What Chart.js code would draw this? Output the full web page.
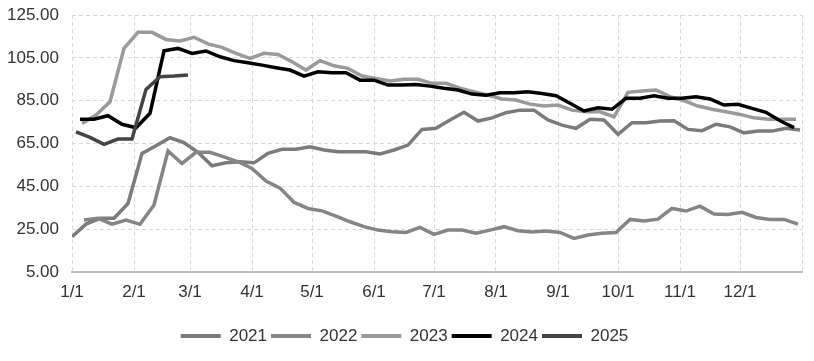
<!DOCTYPE html>
<html><head><meta charset="utf-8">
<script src="https://cdn.jsdelivr.net/npm/chart.js@4/dist/chart.umd.min.js"></script>
<style>html,body{margin:0;padding:0;background:#fff}</style>
</head><body>
<canvas id="c" width="814" height="361"></canvas>
<script>
// ---- data ----
const seriesNames = ['2021', '2022', '2023', '2024', '2025'];
// day-of-year (Jan 1 = 0) of each year's first weekly observation
const firstObsDay = [0, 6, 5, 4, 2];
const v2021 = [21.5, 27.4, 30.1, 30.1, 37.0, 60.4, 64.0, 67.7, 65.4, 60.9, 54.6, 56.0, 56.5, 56.0, 60.4, 62.3, 62.3, 63.5, 62.0, 61.2, 61.2, 61.2, 60.1, 62.0, 64.3, 71.6, 72.1, 76.0, 79.6, 75.5, 77.0, 79.4, 80.6, 80.6, 76.0, 73.6, 72.1, 76.3, 76.0, 69.3, 74.7, 74.7, 75.5, 75.6, 71.6, 71.0, 74.0, 72.8, 70.0, 70.8, 70.8, 72.1, 71.3];
const v2022 = [29.3, 30.1, 27.4, 29.3, 27.3, 36.3, 61.5, 55.7, 60.9, 60.9, 58.8, 56.5, 53.4, 47.5, 44.2, 37.6, 34.7, 33.6, 31.1, 28.5, 26.2, 24.6, 23.8, 23.5, 25.9, 22.6, 24.6, 24.6, 23.1, 24.6, 26.2, 24.3, 23.7, 24.2, 23.5, 20.7, 22.3, 23.1, 23.5, 29.6, 28.8, 29.7, 34.7, 33.5, 35.8, 32.1, 31.9, 32.9, 30.5, 29.6, 29.6, 27.4];
const v2023 = [74.4, 78.3, 84.5, 109.4, 116.9, 116.9, 113.6, 112.9, 114.6, 111.5, 109.9, 107.1, 104.8, 107.1, 106.6, 103.2, 99.3, 103.7, 101.3, 100.1, 96.5, 95.4, 94.2, 95.0, 95.0, 93.1, 93.1, 90.8, 89.2, 87.6, 85.8, 85.3, 83.4, 82.5, 83.0, 80.6, 79.8, 79.8, 77.5, 88.9, 89.5, 90.0, 86.9, 85.0, 82.5, 81.0, 79.8, 78.6, 77.0, 76.3, 76.3, 76.3];
const v2024 = [76.4, 76.4, 78.0, 74.0, 72.4, 79.1, 108.3, 109.4, 107.1, 108.2, 105.5, 103.7, 102.7, 101.6, 100.4, 99.3, 96.5, 98.5, 98.1, 98.1, 94.6, 94.6, 92.3, 92.3, 92.6, 91.8, 90.8, 90.0, 88.1, 87.6, 88.7, 88.7, 89.2, 88.4, 87.3, 83.8, 80.2, 81.7, 81.0, 86.1, 86.1, 87.3, 86.1, 86.1, 86.8, 85.8, 83.0, 83.3, 81.4, 79.6, 75.6, 72.4];
const v2025 = [70.5, 67.9, 64.6, 67.1, 67.1, 90.3, 96.2, 96.5, 97.0];
const seriesValues = [v2021, v2022, v2023, v2024, v2025];
const xTickLabels = ['1/1', '2/1', '3/1', '4/1', '5/1', '6/1', '7/1', '8/1', '9/1', '10/1', '11/1', '12/1'];
const xTickDays = [0, 31, 59, 90, 120, 151, 181, 212, 243, 273, 304, 334];
const yTicks = [5, 25, 45, 65, 85, 105, 125];

// ---- style ----
const colors = ['#7b7b7b', '#858585', '#9a9a9a', '#000000', '#444444'];
const FONT = "'Liberation Sans', Arial, sans-serif";
const GRID = '#d9d9d9';

const datasets = seriesNames.map((name, i) => ({
  label: name,
  data: seriesValues[i].map((v, k) => ({ x: firstObsDay[i] + 7 * k, y: v })),
  borderColor: colors[i],
  backgroundColor: colors[i],
  borderWidth: 3.5,
  pointRadius: 0,
  tension: 0,
  fill: false,
  order: seriesNames.length - i
}));

new Chart(document.getElementById('c'), {
  type: 'line',
  data: { datasets },
  options: {
    responsive: false,
    animation: false,
    devicePixelRatio: 1,
    layout: { padding: { left: 7, right: 12, top: 15, bottom: 6.5 } },
    plugins: {
      tooltip: { enabled: false },
      legend: {
        position: 'bottom',
        labels: {
          boxWidth: 40, boxHeight: 4, padding: 4, color: '#333',
          font: { family: FONT, size: 17 },
          sort: (a, b) => a.datasetIndex - b.datasetIndex,
          generateLabels: chart => Chart.defaults.plugins.legend.labels.generateLabels(chart)
            .map(l => Object.assign({}, l, { fillStyle: colors[l.datasetIndex], lineWidth: 0 }))
        }
      }
    },
    scales: {
      x: {
        type: 'linear', min: 0, max: 365,
        afterBuildTicks: s => { s.ticks = xTickDays.concat([365]).map(v => ({ value: v })); },
        afterFit: s => { s.height += 11; },
        ticks: {
          autoSkip: false, maxRotation: 0, padding: 10, color: '#333',
          font: { family: FONT, size: 17 },
          callback: (v) => { const i = xTickDays.indexOf(v); return i >= 0 ? xTickLabels[i] : ''; }
        },
        grid: { color: GRID, lineWidth: 1, drawTicks: false },
        border: { display: true, color: '#c0c0c0', width: 2, dash: [4, 3] }
      },
      y: {
        min: 5, max: 125,
        afterBuildTicks: s => { s.ticks = yTicks.map(v => ({ value: v })); },
        afterFit: s => { s.width = 65; s.paddingTop = 0; s.paddingBottom = 0; },
        ticks: {
          padding: 13, color: '#333',
          font: { family: FONT, size: 17 },
          callback: v => Number(v).toFixed(2)
        },
        grid: { color: c => (c.tick && c.tick.value === 5) ? 'rgba(0,0,0,0)' : GRID, lineWidth: 1, drawTicks: false },
        border: { display: false, dash: [4, 3] }
      }
    }
  }
});
</script>
</body></html>
